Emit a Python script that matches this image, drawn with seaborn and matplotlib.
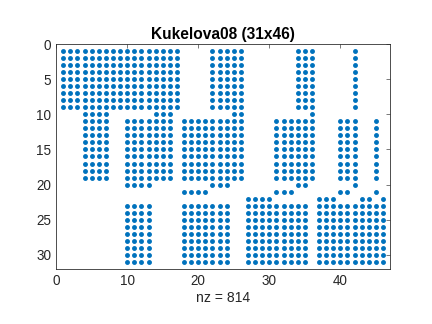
import seaborn as sns
import matplotlib
matplotlib.use("Agg")
import matplotlib.pyplot as plt
import pandas as pd

# sparsity pattern of the 31x46 matrix, stored as rectangular blocks of nonzeros
# (first row, last row, first col, last col), 1-based like MATLAB spy
row_start = [1, 1, 10, 1, 10, 1, 10,
             10, 11, 20, 11, 20, 21, 11, 20, 21, 11, 20, 21, 11, 21,
             23, 23, 22, 23, 22, 22, 22, 23]
row_end = [9, 9, 10, 9, 10, 9, 10,
           19, 19, 20, 19, 20, 21, 19, 20, 21, 19, 20, 21, 19, 21,
           31, 31, 22, 31, 22, 22, 22, 31]
col_start = [1, 22, 25, 34, 36, 42, 14,
             4, 10, 10, 18, 22, 18, 31, 34, 31, 40, 42, 40, 45, 45,
             10, 18, 27, 27, 37, 43, 46, 37]
col_end = [17, 26, 26, 36, 36, 42, 16,
           7, 16, 13, 26, 24, 21, 36, 35, 33, 42, 42, 41, 45, 45,
           13, 24, 30, 35, 39, 44, 46, 46]

n_rows, n_cols = 31, 46
title = "Kukelova08 (31x46)"


def build_points():
    pts = set()
    for r0, r1, c0, c1 in zip(row_start, row_end, col_start, col_end):
        for r in range(r0, r1 + 1):
            for c in range(c0, c1 + 1):
                pts.add((r, c))
    return pd.DataFrame(sorted(pts), columns=["row", "col"])


def main():
    sns.set_style("white")
    plt.rcParams["font.family"] = ["Liberation Sans", "DejaVu Sans"]
    edge = "#262626"

    df = build_points()
    print("nz =", len(df))

    fig = plt.figure(figsize=(6, 4.5), dpi=72)
    ax = fig.add_axes([0.13, 0.17, 0.773, 0.694])
    sns.scatterplot(data=df, x="col", y="row", ax=ax, color="#0072BD",
                    s=24, linewidth=0, marker="o")

    ax.set_xlim(0, n_cols + 1)
    ax.set_ylim(n_rows + 1, 0)
    ax.set_xticks([0, 10, 20, 30, 40])
    ax.set_yticks([0, 5, 10, 15, 20, 25, 30])
    ax.tick_params(direction="in", length=4, width=0.6, colors=edge,
                   labelsize=13.5, top=True, right=True, pad=5)
    for sp in ax.spines.values():
        sp.set_color(edge)
        sp.set_linewidth(0.8)
    ax.set_xlabel(f"nz = {len(df)}", fontsize=14, color=edge, labelpad=3)
    ax.set_ylabel("")
    ax.set_title(title, fontsize=15.5, fontweight="bold", color="black", pad=5)

    fig.savefig("out.png", dpi=72)
    plt.close(fig)


if __name__ == "__main__":
    main()
